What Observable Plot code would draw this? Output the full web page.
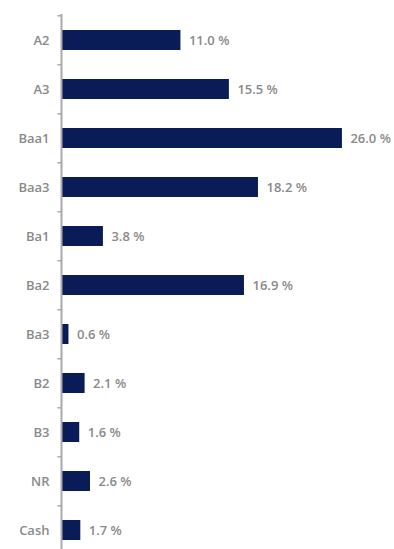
<!DOCTYPE html>
<html>
<head>
<meta charset="utf-8">
<script src="https://cdn.jsdelivr.net/npm/d3@7"></script>
<script src="https://cdn.jsdelivr.net/npm/@observablehq/plot@0.6"></script>
<style>
  html, body { margin: 0; padding: 0; background: #fff; }
  #chart svg { display: block; overflow: visible; }
</style>
</head>
<body>
<div id="chart"></div>
<script>
const categories = ["A2", "A3", "Baa1", "Baa3", "Ba1", "Ba2", "Ba3", "B2", "B3", "NR", "Cash"];
const values = [11.0, 15.5, 26.0, 18.2, 3.8, 16.9, 0.6, 2.1, 1.6, 2.6, 1.7];
const labels = ["11.0 %", "15.5 %", "26.0 %", "18.2 %", "3.8 %", "16.9 %", "0.6 %", "2.1 %", "1.6 %", "2.6 %", "1.7 %"];

const data = categories.map((c, i) => ({cat: c, value: values[i], label: labels[i]}));

const W = 394, marginTop = 14, marginBottom = 0, H = 556;
const step = (H - marginTop - marginBottom) / categories.length;
const FONT = "'Open Sans', 'Liberation Sans', sans-serif";

const chart = Plot.plot({
  width: W,
  height: H,
  marginLeft: 62,
  marginRight: 9,
  marginTop,
  marginBottom,
  style: {fontFamily: FONT, fontSize: "13px", color: "#8a8a8a", background: "#fff"},
  x: {domain: [0, 30], axis: null},
  y: {domain: categories, paddingInner: 0.6, paddingOuter: 0.3, align: 0.5, label: null},
  marks: [
    Plot.barX(data, {y: "cat", x: "value", fill: "#0a1c57"}),
    Plot.text(data, {y: "cat", x: "value", text: "label", dx: 8, textAnchor: "start", fill: "#8a8a8a", fontWeight: 600, fontSize: 13}),
    Plot.axisY({tickSize: 0, tickPadding: 13, fill: "#8a8a8a", fontWeight: 600, fontSize: 13, label: null}),
    Plot.ruleX([0], {stroke: "#aaa", strokeWidth: 2, dx: -1}),
    Plot.ruleY(categories, {y: d => d, x1: -0.35, x2: 0, dx: -1, dy: -step / 2, stroke: "#888", strokeWidth: 1})
  ]
});
document.getElementById("chart").append(chart);
</script>
</body>
</html>
